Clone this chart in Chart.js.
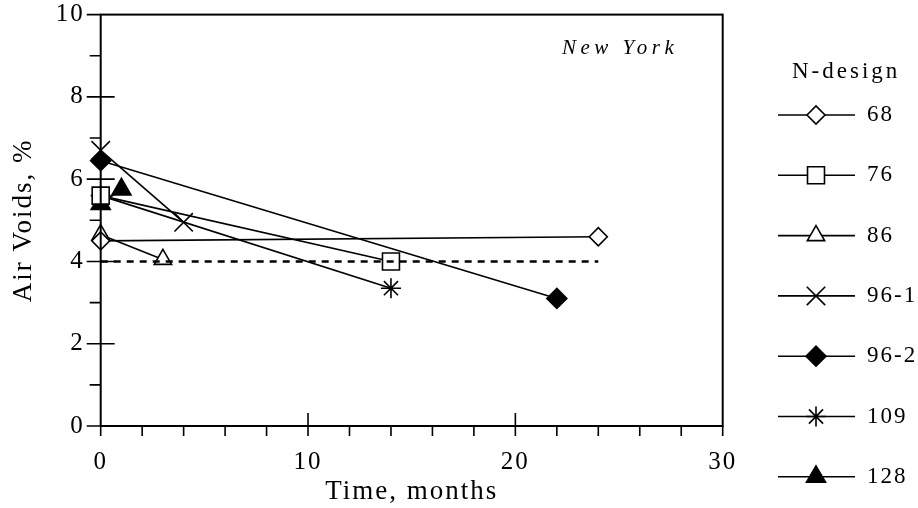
<!DOCTYPE html>
<html>
<head>
<meta charset="utf-8">
<script src="https://cdn.jsdelivr.net/npm/chart.js@4"></script>
<style>
  html, body { margin: 0; padding: 0; background: #fff; }
  #wrap { width: 918px; height: 508px; }
</style>
</head>
<body>
<div id="wrap"><canvas id="voidsChart"></canvas></div>
<script>
// data
const seriesNames = ['68', '76', '86', '96-1', '96-2', '109', '128'];
const months68 = [0, 24];   const voids68 = [4.5, 4.6];
const months76 = [0, 14];   const voids76 = [5.6, 4.0];
const months86 = [0, 3];    const voids86 = [4.65, 4.05];
const months961 = [0, 4];   const voids961 = [6.7, 4.95];
const months962 = [0, 22];  const voids962 = [6.45, 3.1];
const months109 = [0, 14];  const voids109 = [5.6, 3.35];
const months128 = [0, 1];   const voids128 = [5.4, 5.75];
const targetMonths = [0, 24]; const targetVoids = [4, 4];
const xTicks = [0, 10, 20, 30];
const yTicks = [0, 2, 4, 6, 8, 10];

const FONT = "'Liberation Serif', 'Times New Roman', serif";

function pts(xs, ys) { return xs.map((x, i) => ({ x: x, y: ys[i] })); }

const styles = [
    { pointStyle: 'rectRot', radius: 9, fill: '#fff' },
    { pointStyle: 'rect', radius: 12, fill: '#fff' },
    { pointStyle: 'triangle', radius: 10, fill: '#fff' },
    { pointStyle: 'crossRot', radius: 13, fill: '#fff' },
    { pointStyle: 'rectRot', radius: 10, fill: '#000' },
    { pointStyle: 'star', radius: 10, fill: '#000' },
    { pointStyle: 'triangle', radius: 11, fill: '#000' }
];
const seriesData = [
    pts(months68, voids68), pts(months76, voids76), pts(months86, voids86),
    pts(months961, voids961), pts(months962, voids962), pts(months109, voids109),
    pts(months128, voids128)
];

const datasets = [{
    label: 'target',
    data: pts(targetMonths, targetVoids),
    showLine: true,
    borderColor: '#000',
    borderWidth: 2.5,
    borderDash: [7, 6],
    pointRadius: 0,
    clip: false
}];
seriesNames.forEach((name, i) => {
    datasets.push({
        label: name,
        data: seriesData[i],
        showLine: true,
        clip: false,
        borderColor: '#000',
        borderWidth: 1.6,
        pointStyle: styles[i].pointStyle,
        pointRadius: styles[i].radius,
        pointBackgroundColor: styles[i].fill,
        pointBorderColor: '#000',
        pointBorderWidth: 1.6
    });
});

// slight letter spacing like the original serif text
const spacing = {
    id: 'spacing',
    beforeDraw(chart) { chart.ctx.letterSpacing = '2px'; }
};

// axis ticks: y majors cross the axis, x majors point inward, minors outward
const tickMarks = {
    id: 'tickMarks',
    afterDatasetsDraw(chart) {
        const ctx = chart.ctx, xs = chart.scales.x, ys = chart.scales.y;
        const a = chart.chartArea;
        ctx.save();
        ctx.strokeStyle = '#000';
        ctx.lineWidth = 1.6;
        ctx.beginPath();
        for (let v = 0; v <= 10; v++) {
            const py = ys.getPixelForValue(v);
            const major = v % 2 === 0;
            ctx.moveTo(a.left - (major ? 14 : 11), py);
            ctx.lineTo(a.left + (major && v > 0 && v < 10 ? 14 : 0), py);
        }
        for (let m = 0; m <= 30; m += 2) {
            const px = xs.getPixelForValue(m);
            ctx.moveTo(px, a.bottom);
            ctx.lineTo(px, a.bottom + 10);
        }
        [10, 20].forEach(m => {
            const px = xs.getPixelForValue(m);
            ctx.moveTo(px, a.bottom);
            ctx.lineTo(px, a.bottom - 13);
        });
        ctx.stroke();
        ctx.lineWidth = 2;
        ctx.strokeRect(a.left, a.top, a.right - a.left, a.bottom - a.top);

        ctx.fillStyle = '#000';
        ctx.font = 'italic 21px ' + FONT;
        ctx.letterSpacing = '4.5px';
        ctx.textAlign = 'left';
        ctx.textBaseline = 'middle';
        ctx.fillText('New York', xs.getPixelForValue(22.25), ys.getPixelForValue(9.18));
        ctx.restore();
    }
};

// legend on the right: a line through each marker
const sideLegend = {
    id: 'sideLegend',
    afterDraw(chart) {
        const ctx = chart.ctx;
        ctx.save();
        ctx.fillStyle = '#000';
        ctx.font = '23px ' + FONT;
        ctx.letterSpacing = '3px';
        ctx.textAlign = 'left';
        ctx.textBaseline = 'middle';
        ctx.fillText('N-design', 792, 72);
        ctx.letterSpacing = '2px';
        seriesNames.forEach((name, i) => {
            const y = 115 + i * 60.3;
            ctx.strokeStyle = '#000';
            ctx.lineWidth = 1.6;
            ctx.beginPath();
            ctx.moveTo(778, y);
            ctx.lineTo(855, y);
            ctx.stroke();
            ctx.fillStyle = styles[i].fill;
            Chart.helpers.drawPoint(ctx, {
                pointStyle: styles[i].pointStyle,
                radius: styles[i].radius,
                rotation: 0,
                borderWidth: 1.6
            }, 816, y);
            ctx.fillStyle = '#000';
            ctx.fillText(name, 867, y);
        });
        ctx.restore();
    }
};

new Chart(document.getElementById('voidsChart'), {
    type: 'scatter',
    data: { datasets: datasets },
    plugins: [spacing, tickMarks, sideLegend],
    options: {
        responsive: true,
        maintainAspectRatio: false,
        animation: false,
        layout: { padding: { left: 0, right: 195.3, top: 12.7, bottom: 0 } },
        plugins: { legend: { display: false }, tooltip: { enabled: false } },
        scales: {
            x: {
                type: 'linear', min: 0, max: 30,
                afterBuildTicks: s => { s.ticks = xTicks.map(v => ({ value: v })); },
                afterFit: s => { s.height = 82; s.paddingLeft = 0; s.paddingRight = 0; },
                grid: { display: false, drawTicks: false },
                border: { display: false },
                ticks: { color: '#000', padding: 21, font: { family: FONT, size: 25 } },
                title: { display: true, text: 'Time, months', color: '#000',
                         padding: { top: 0, bottom: 0 }, font: { family: FONT, size: 27 } }
            },
            y: {
                type: 'linear', min: 0, max: 10,
                afterBuildTicks: s => { s.ticks = yTicks.map(v => ({ value: v })); },
                afterFit: s => { s.width = 100.7; s.paddingTop = 0; s.paddingBottom = 0; },
                grid: { display: false, drawTicks: false },
                border: { display: false },
                ticks: { color: '#000', padding: 16, font: { family: FONT, size: 25 } },
                title: { display: true, text: 'Air Voids, %', color: '#000',
                         padding: { top: 8, bottom: 0 }, font: { family: FONT, size: 27 } }
            }
        }
    }
});
</script>
</body>
</html>
